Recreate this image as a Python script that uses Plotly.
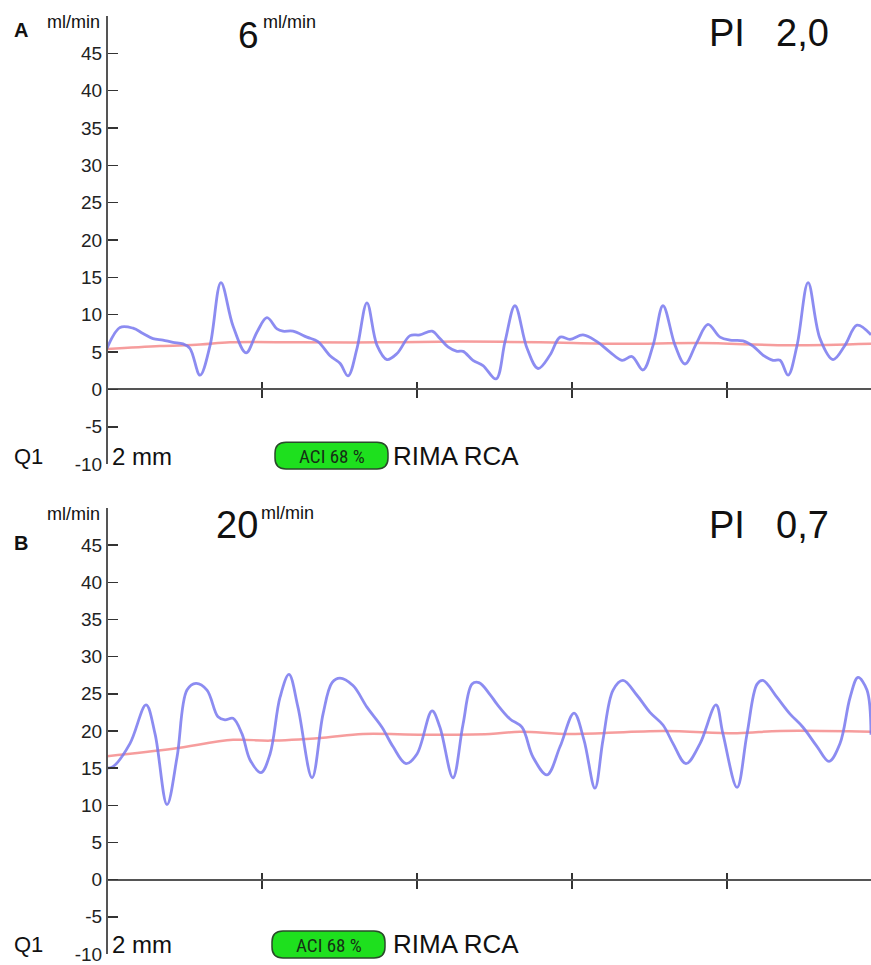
import plotly.graph_objects as go

# ---------------- data (time in s, flow in ml/min) ----------------
a_flow_t = [0.000, 0.084, 0.168, 0.232, 0.297, 0.361, 0.426, 0.490, 0.535, 0.600, 0.665, 0.735,
            0.813, 0.897, 0.968, 1.032, 1.097, 1.135, 1.200, 1.290, 1.361, 1.439, 1.503, 1.555,
            1.613, 1.677, 1.742, 1.806, 1.871, 1.955, 2.019, 2.097, 2.148, 2.200, 2.258, 2.297,
            2.361, 2.426, 2.510, 2.568, 2.632, 2.710, 2.781, 2.858, 2.923, 2.987, 3.071, 3.161,
            3.245, 3.323, 3.387, 3.458, 3.523, 3.587, 3.665, 3.729, 3.806, 3.877, 3.955, 4.019,
            4.103, 4.168, 4.232, 4.297, 4.342, 4.394, 4.452, 4.523, 4.600, 4.684, 4.761, 4.839,
            4.929]
a_flow_v = [5.5, 8.3, 8.2, 7.5, 6.8, 6.6, 6.3, 6.1, 5.5, 1.9, 5.9, 14.3,
            8.5, 4.9, 7.7, 9.6, 8.1, 7.8, 7.8, 7.0, 6.4, 4.5, 3.5, 1.8,
            5.5, 11.6, 5.9, 4.0, 4.8, 7.2, 7.3, 7.8, 6.8, 5.7, 5.1, 5.1,
            3.9, 3.2, 1.4, 6.4, 11.2, 5.5, 2.8, 4.6, 7.0, 6.7, 7.3, 6.4,
            5.0, 3.9, 4.4, 2.6, 5.9, 11.2, 5.9, 3.4, 6.3, 8.7, 7.0, 6.6,
            6.5, 5.8, 4.6, 3.9, 3.9, 1.9, 5.9, 14.3, 6.8, 4.0, 5.9, 8.6,
            7.3]
a_mean_t = [0.000, 0.342, 0.600, 0.794, 1.245, 1.761, 2.277, 2.794, 3.310, 3.826, 4.406, 4.929]
a_mean_v = [5.4, 5.8, 6.0, 6.3, 6.3, 6.3, 6.4, 6.3, 6.1, 6.2, 5.9, 6.1]

b_flow_t = [0.000, 0.039, 0.148, 0.252, 0.310, 0.387, 0.452, 0.516, 0.574, 0.645, 0.716, 0.761,
            0.813, 0.871, 0.923, 0.994, 1.052, 1.116, 1.174, 1.232, 1.323, 1.394, 1.452, 1.503,
            1.587, 1.677, 1.774, 1.845, 1.929, 2.000, 2.097, 2.148, 2.232, 2.297, 2.355, 2.400,
            2.471, 2.516, 2.600, 2.677, 2.748, 2.839, 2.923, 3.013, 3.077, 3.148, 3.200, 3.265,
            3.329, 3.419, 3.503, 3.587, 3.652, 3.735, 3.826, 3.929, 3.974, 4.065, 4.129, 4.194,
            4.232, 4.323, 4.406, 4.490, 4.581, 4.658, 4.729, 4.794, 4.845, 4.903, 4.929]
b_flow_v = [15.0, 15.2, 18.3, 23.5, 19.6, 10.1, 16.5, 25.5, 26.4, 25.5, 21.9, 21.5,
            21.7, 19.6, 16.1, 14.4, 16.9, 24.5, 27.6, 23.2, 13.7, 22.3, 26.5, 27.1,
            26.1, 23.2, 20.5, 17.9, 15.6, 16.9, 22.7, 20.5, 13.7, 20.9, 26.3, 26.5,
            24.9, 23.6, 21.6, 20.5, 16.5, 14.1, 17.9, 22.4, 18.8, 12.3, 18.8, 25.5,
            26.8, 24.8, 22.5, 20.8, 18.3, 15.6, 18.3, 23.5, 19.6, 12.4, 19.6, 26.3,
            26.8, 24.5, 22.3, 20.5, 17.9, 15.9, 18.3, 24.5, 27.2, 25.5, 19.5]
b_mean_t = [0.000, 0.426, 0.813, 1.052, 1.394, 1.652, 2.039, 2.471, 2.665, 2.987, 3.587, 4.065,
            4.342, 4.929]
b_mean_v = [16.6, 17.6, 18.8, 18.7, 19.1, 19.6, 19.5, 19.6, 19.9, 19.6, 20.0, 19.7, 20.0, 19.9]

y_ticks = [-10, -5, 0, 5, 10, 15, 20, 25, 30, 35, 40, 45]
y_tick_text = ["-10", "-5", "0", "5", "10", "15", "20", "25", "30", "35", "40", "45"]
x_ticks = [1, 2, 3, 4]
x_range = [0, 4.929]
y_range = [-10, 50]

panels = [
    dict(letter="A", mean="6", mean_size=37, pi="2,0", off=0, box_x=(275, 388), letter_y=30),
    dict(letter="B", mean="20", mean_size=38, pi="0,7", off=494, box_x=(272, 385), letter_y=545),
]

# ---------------- layout helpers ----------------
W, H = 871, 965
ML, MR, MT, MB = 107, 0, 16, 7
PW, PH = W - ML - MR, H - MT - MB


def PX(px):
    return (px - ML) / PW


def PY(py):
    return (H - MB - py) / PH


FONT = "Liberation Sans, Arial, sans-serif"
NARROW = "Liberation Sans Narrow, Arial Narrow, Roboto Condensed, Liberation Sans"
BLUE = "rgba(120,120,238,0.85)"
RED = "rgba(245,140,140,0.85)"
AXC = "#555555"

fig = go.Figure()
domains = [[PY(466), PY(16)], [PY(958), PY(510)]]

for i, (ft, fv, mt, mv) in enumerate([(a_flow_t, a_flow_v, a_mean_t, a_mean_v),
                                       (b_flow_t, b_flow_v, b_mean_t, b_mean_v)]):
    xa = "x" if i == 0 else "x2"
    ya = "y" if i == 0 else "y2"
    fig.add_trace(go.Scatter(x=mt, y=mv, mode="lines", xaxis=xa, yaxis=ya,
                             line=dict(color=RED, width=2.5, shape="spline", smoothing=1.0),
                             hoverinfo="skip", showlegend=False))
    fig.add_trace(go.Scatter(x=ft, y=fv, mode="lines", xaxis=xa, yaxis=ya,
                             line=dict(color=BLUE, width=2.8, shape="spline", smoothing=1.0),
                             hoverinfo="skip", showlegend=False))

layout_axes = {}
for i in range(2):
    d = domains[i]
    pos0 = d[0] + (d[1] - d[0]) * (0 - y_range[0]) / (y_range[1] - y_range[0])
    xk = "xaxis" if i == 0 else "xaxis2"
    yk = "yaxis" if i == 0 else "yaxis2"
    layout_axes[xk] = dict(domain=[0, 1], range=x_range, anchor="free", position=pos0,
                           showline=True, linecolor=AXC, linewidth=2, ticks="outside",
                           tickvals=x_ticks, ticklen=8, tickwidth=1.5, tickcolor="#333",
                           minor=dict(ticks="inside", tickvals=x_ticks, ticklen=6,
                                      tickwidth=1.5, tickcolor="#333", showgrid=False),
                           showticklabels=False, showgrid=False, zeroline=False)
    layout_axes[yk] = dict(domain=d, range=y_range, anchor="free", position=0,
                           showline=True, linecolor=AXC, linewidth=2, ticks="inside",
                           tickvals=y_ticks, ticktext=y_tick_text, ticklen=10, tickwidth=1.5,
                           tickcolor="#333",
                           tickfont=dict(family=FONT, size=19, color="#222"),
                           showgrid=False, zeroline=False)

ann = []
shapes = []


def text(t, px, py, size, xanchor="left", bold=False, color="#111", family=FONT):
    if bold:
        t = "<b>" + t + "</b>"
    ann.append(dict(text=t, x=PX(px), y=PY(py), xref="paper", yref="paper",
                    xanchor=xanchor, yanchor="middle", showarrow=False,
                    font=dict(family=family, size=size, color=color)))


for p in panels:
    o = p["off"]
    bo = o - (4 if o else 0)
    text(p["letter"], 21, p["letter_y"], 20, xanchor="center", bold=True)
    text("ml/min", 102, 22 + o, 18, xanchor="right")
    if len(p["mean"]) == 1:
        text(p["mean"], 236, 36 + o, p["mean_size"])
        text("ml/min", 261, 22 + o, 18)
    else:
        text(p["mean"], 214, 527 - 494 + o, p["mean_size"])
        text("ml/min", 259, 21 + o, 18)
    text("PI", 707, 33 + o, 38)
    text(p["pi"], 774, 33 + o, 38)
    text("Q1", 12, 458 + bo, 22)
    text("2 mm", 110, 458 + bo, 24)
    text("RIMA RCA", 391, 458 + bo, 26)
    bx0, bx1 = p["box_x"]
    by0, by1 = 444 + o - (3 if o else 0), 471 + o - (3 if o else 0)
    r = 11
    path = (f"M {PX(bx0 + r)},{PY(by0)} L {PX(bx1 - r)},{PY(by0)} "
            f"Q {PX(bx1)},{PY(by0)} {PX(bx1)},{PY(by0 + r)} "
            f"L {PX(bx1)},{PY(by1 - r)} Q {PX(bx1)},{PY(by1)} {PX(bx1 - r)},{PY(by1)} "
            f"L {PX(bx0 + r)},{PY(by1)} Q {PX(bx0)},{PY(by1)} {PX(bx0)},{PY(by1 - r)} "
            f"L {PX(bx0)},{PY(by0 + r)} Q {PX(bx0)},{PY(by0)} {PX(bx0 + r)},{PY(by0)} Z")
    shapes.append(dict(type="path", path=path, xref="paper", yref="paper",
                       fillcolor="#1ee01e", line=dict(color="#2a4a2a", width=1.5)))
    text("ACI 68 %", (bx0 + bx1) / 2, (by0 + by1) / 2 + 1, 19, xanchor="center",
         color="#153015", family=NARROW)

fig.update_layout(width=W, height=H, margin=dict(l=ML, r=MR, t=MT, b=MB),
                  paper_bgcolor="white", plot_bgcolor="white",
                  annotations=ann, shapes=shapes, showlegend=False,
                  font=dict(family=FONT), **layout_axes)

fig.write_html("out.html", config={"displayModeBar": False, "staticPlot": True},
               post_script="document.body.style.margin='0';document.body.style.overflow='hidden';")
